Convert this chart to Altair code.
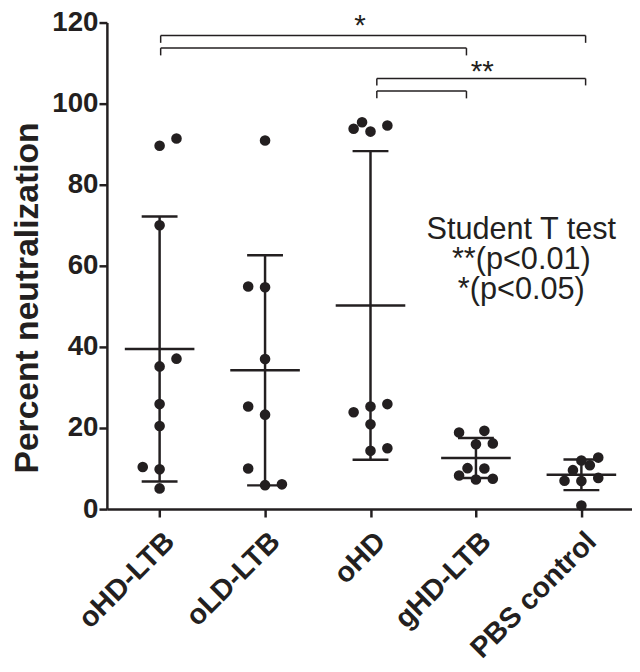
import altair as alt
import pandas as pd

INK = "#231f20"
FONT = "Liberation Sans"

groups = ["oHD-LTB", "oLD-LTB", "oHD", "gHD-LTB", "PBS control"]

ohd_ltb = [91.4, 89.6, 70.0, 37.1, 35.2, 25.9, 20.5, 10.4, 9.8, 5.1]
ohd_ltb_slot = [1, 0, 0, 1, 0, 0, 0, -1, 0, 0]

old_ltb = [90.9, 54.9, 54.7, 37.0, 25.3, 23.3, 10.0, 5.9, 6.1]
old_ltb_slot = [0, -1, 0, 0, -1, 0, -1, 0, 1]

ohd = [93.8, 95.4, 93.1, 94.6, 23.9, 25.3, 25.9, 20.9, 14.4, 15.0]
ohd_slot = [-1, -0.5, 0, 1, -1, 0, 1, 0, 0, 1]

ghd_ltb = [18.9, 19.3, 16.0, 16.2, 10.1, 10.0, 8.3, 7.3, 7.5]
ghd_ltb_slot = [-1, 0.5, 0, 1, -0.5, 0.5, -1, 0, 1]

pbs = [12.0, 12.7, 10.8, 9.6, 7.0, 6.9, 7.7, 0.9]
pbs_slot = [0, 1, 0.5, -0.5, -1, 0, 1, 0]

series = [
    (ohd_ltb, ohd_ltb_slot),
    (old_ltb, old_ltb_slot),
    (ohd, ohd_slot),
    (ghd_ltb, ghd_ltb_slot),
    (pbs, pbs_slot),
]

rows = []
for i, (g, (vals, slots)) in enumerate(zip(groups, series)):
    for v, s in zip(vals, slots):
        rows.append({"group": g, "idx": i, "value": v, "slot": s})
df = pd.DataFrame(rows)

# significance brackets: left, right, y, drop
br_left = [0.01, 0.01, 2.06, 2.06]
br_right = [4.04, 2.91, 4.04, 2.91]
br_y = [116.8, 113.7, 106.2, 103.1]
br_drop = [1.8, 1.8, 1.7, 1.8]

seg = []
for l, r, y, d in zip(br_left, br_right, br_y, br_drop):
    seg.append({"x": l, "x2": r, "y": y, "y2": y})
    seg.append({"x": l, "x2": l, "y": y, "y2": y - d})
    seg.append({"x": r, "x2": r, "y": y, "y2": y - d})
segdf = pd.DataFrame(seg)

stars = pd.DataFrame({"x": [1.9, 3.06], "y": [116.9, 105.6], "t": ["*", "**"]})
note_lines = ["Student T test", "**(p<0.01)", "*(p<0.05)"]
note = pd.DataFrame({"x": [3.43], "y": [66.5], "t": ["\n".join(note_lines)]})

xs = alt.Scale(domain=[-0.5, 4.48], nice=False, zero=False)
ys = alt.Scale(domain=[0, 120], nice=False)

label_expr = "[" + ",".join("'" + g + "'" for g in groups) + "][datum.value]"

xaxis = alt.Axis(values=[0, 1, 2, 3, 4], labelExpr=label_expr, labelAngle=-45,
                 labelFont=FONT, labelFontWeight="bold", labelFontSize=29,
                 labelColor=INK, tickSize=8, tickWidth=2.5, tickColor=INK,
                 domainWidth=2.5, domainColor=INK, grid=False, title=None,
                 labelPadding=10, labelOverlap=False, labelFlush=False)
yaxis = alt.Axis(values=[0, 20, 40, 60, 80, 100, 120], labelFont=FONT,
                 labelFontWeight="bold", labelFontSize=28, labelColor=INK,
                 tickSize=8, tickWidth=2.5, tickColor=INK, domainWidth=2.5,
                 domainColor=INK, grid=False, title="Percent neutralization",
                 titleFont=FONT, titleFontWeight="bold", titleFontSize=34,
                 titleColor=INK, titlePadding=7, labelPadding=1,
                 titleY=278, labelFlush=False, labelOverlap=False)


def X(field):
    return alt.X(field, scale=xs, axis=xaxis, title=None)


def Y(field):
    return alt.Y(field, scale=ys, axis=yaxis, title="Percent neutralization")


stats = alt.Chart(df).transform_aggregate(
    m="mean(value)", s="stdev(value)", groupby=["group", "idx"]
).transform_calculate(
    lo="datum.m - datum.s", hi="datum.m + datum.s",
    ml="datum.idx - 0.33", mr="datum.idx + 0.33",
    cl="datum.idx - 0.17", cr="datum.idx + 0.17",
)

vline = stats.mark_rule(strokeWidth=2.5, color=INK).encode(
    x=X("idx:Q"), y=Y("lo:Q"), y2="hi:Q",
)
meanline = stats.mark_rule(strokeWidth=2.5, color=INK).encode(
    x=X("ml:Q"), x2="mr:Q", y=Y("m:Q"),
)
caphi = stats.mark_rule(strokeWidth=2.5, color=INK).encode(
    x=X("cl:Q"), x2="cr:Q", y=Y("hi:Q"),
)
caplo = stats.mark_rule(strokeWidth=2.5, color=INK).encode(
    x=X("cl:Q"), x2="cr:Q", y=Y("lo:Q"),
)

points = alt.Chart(df).transform_calculate(
    xp="datum.idx + datum.slot * 0.16"
).mark_circle(size=115, color=INK, opacity=1).encode(
    x=X("xp:Q"), y=Y("value:Q"),
)

brackets = alt.Chart(segdf).mark_rule(strokeWidth=1.5, color=INK).encode(
    x=X("x:Q"), x2="x2:Q", y=Y("y:Q"), y2="y2:Q",
)

startext = alt.Chart(stars).mark_text(font=FONT, fontSize=30, color=INK,
                                      baseline="alphabetic", align="center").encode(
    x=X("x:Q"), y=Y("y:Q"), text="t:N",
)

notetext = alt.Chart(note).mark_text(font=FONT, fontSize=31, color=INK,
                                     baseline="alphabetic", align="center",
                                     lineBreak="\n", lineHeight=30).encode(
    x=X("x:Q"), y=Y("y:Q"), text="t:N",
)

chart = alt.layer(vline, meanline, caphi, caplo, points, brackets, startext, notetext).properties(
    width=531, height=492,
    padding={"left": 100, "top": 11, "right": 0, "bottom": 160},
    autosize=alt.AutoSizeParams(type="none"),
).configure_view(stroke=None)

chart.save("out.html", embed_options={"renderer": "svg", "actions": False})
